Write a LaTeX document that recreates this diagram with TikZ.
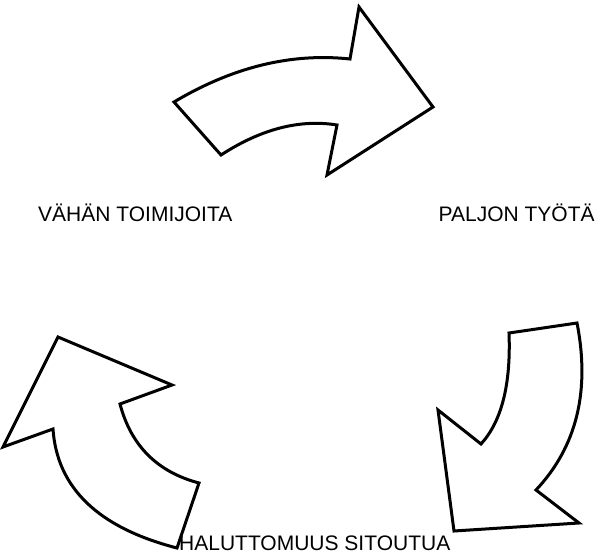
\documentclass[tikz,border=0pt]{standalone}
\usepackage{fontspec}
\setmainfont{Liberation Sans}
\begin{document}
\begin{tikzpicture}[x=1pt,y=-1pt,
  bigarrow/.style={draw=black,fill=white,line width=3pt,line join=miter},
  lbl/.style={inner sep=0pt,anchor=base west,font=\fontsize{21}{25}\selectfont}]
\useasboundingbox (0,0) rectangle (602,556);
% top arrow
\draw[bigarrow] (174,102) .. controls (232.7,67) and (291.3,52.7) .. (350,59) -- (359,7) -- (433,107) -- (327,175) -- (337,125)
  .. controls (299.7,119) and (261,129) .. (221,155) -- cycle;
% right arrow
\draw[bigarrow] (509,333) -- (577,323) .. controls (590.3,391) and (576.7,446.7) .. (536,490) -- (579,523) -- (454,531) -- (438,410) -- (481,444)
  .. controls (501.7,421.3) and (511,384.3) .. (509,333) -- cycle;
% left arrow
\draw[bigarrow] (199,483) -- (177,548) .. controls (98.3,527.7) and (57,488) .. (53,429) -- (3,447) -- (58,337) -- (172,385) -- (120,404)
  .. controls (131,445.7) and (157.3,472) .. (199,483) -- cycle;
\node[lbl] (a) at (38,222) {VÄHÄN TOIMIJOITA};
\node[lbl] (b) at (438.5,222) {PALJON TYÖTÄ};
\node[lbl] (c) at (179,550) {HALUTTOMUUS SITOUTUA};
\end{tikzpicture}
\end{document}
